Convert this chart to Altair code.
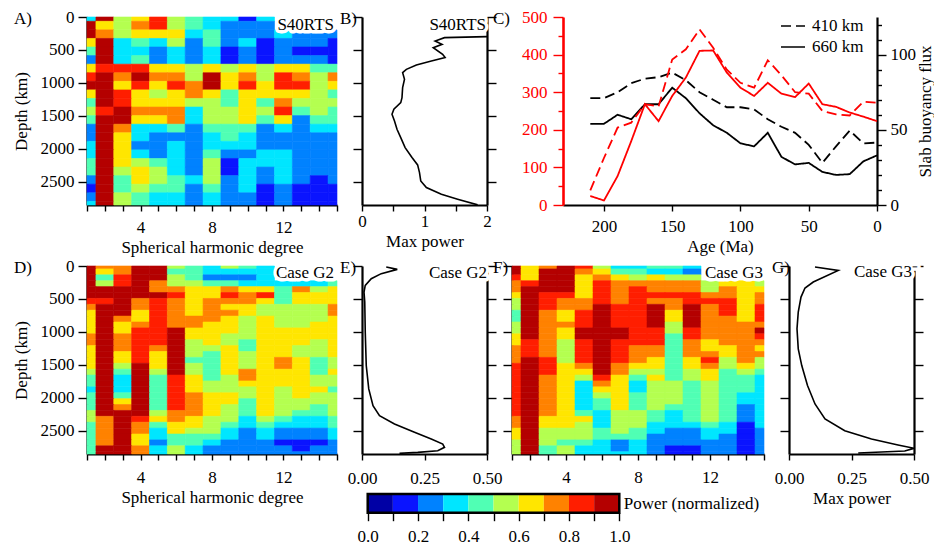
import altair as alt
import pandas as pd

FONT = "Liberation Serif"
FS = 17
RED = "#ff0000"

# ---------------- colour classes of normalised power ----------------
POWER_EDGES = [0.0, 0.1, 0.2, 0.3, 0.4, 0.5, 0.6, 0.7, 0.8, 0.9, 1.0]
POWER_COLORS = ["#0000a5", "#0a14ff", "#0082ff", "#00e6ff", "#50ffb4",
                "#b4ff50", "#ffe600", "#ff8200", "#ff1e00", "#b40000"]

# ---------------- heat-map grids (digit = colour class, '.' = hidden by label) ----------------
DEGREES = list(range(1, 16))
DEPTH_MAX = 2850
S40_STEP = 130.0
MODEL_STEP = 2860.0 / 32

S40RTS_ROWS = [
    "39568543313....", "96578543222....", "975666342223222", "693435242312221",
    "493323231212111", "293423231212221", "688866565656644", "897977596758757",
    "996868796868856", "698656764666654", "498666554647555", "589777355658454",
    "499667355646244", "297334244423233", "296322234322222", "396223233322222",
    "396323242233222", "496543251333222", "495653251323222", "294654352323212",
    "194544242312111", "295433232212111", "395433232212111",
]
G2_ROWS = [
    "97799543543....", "96799443333....", "94899542223....", "958975544333334",
    "999977667664756", "999998668784666", "889787677764666", "799787676655557",
    "699687677655557", "697687776565556", "696787766565566", "696889666566666",
    "797889665566666", "797889565466656", "697879556466556", "696869546566556",
    "696869446567645", "695969546567645", "594959546766646", "493948645766655",
    "493948655666655", "393948655565664", "494948766565655", "496948766465555",
    "497948765465545", "599957765465445", "579867655354334", "479746654343334",
    "479736553232223", "479634443232223", "479624432221112", "499735322222122",
    "499735322222222",
]
G3_ROWS = [
    "96798533443....", "96997644332....", "86996765655....", "789968777775665",
    "799968787775766", "698868788887767", "598778787788867", "598779889797868",
    "497689889697868", "497689889697768", "597789889597777", "597699988587779",
    "697699988487778", "687589888476777", "787589877476676", "787589877477677",
    "798589876468575", "898679766467565", "898669755456454", "897658646456443",
    "897637635545443", "897636635545443", "897635645545433", "897634645545433",
    "897634645445423", "897643554345423", "796663554345423", "796653553334313",
    "695554543223312", "695554442223212", "595443232222212", "594533232112212",
    "594533332112212",
]

# ---------------- max-power profiles ----------------
B_DEPTH = [298, 313, 364, 414, 465, 566, 616, 667, 727, 793, 843, 944, 1071, 1222, 1298,
           1399, 1475, 1576, 1702, 1828, 1980, 2131, 2242, 2358, 2485, 2586, 2687, 2762, 2848]
B_POWER = [2.0, 1.32, 1.17, 1.28, 1.14, 1.29, 1.33, 1.11, 0.87, 0.71, 0.65, 0.68, 0.65, 0.64, 0.62,
           0.51, 0.48, 0.52, 0.56, 0.62, 0.69, 0.80, 0.89, 0.92, 0.94, 1.03, 1.27, 1.53, 1.85]
E_DEPTH = [15, 51, 116, 192, 294, 395, 547, 1002, 1509, 1863, 2116, 2268, 2395, 2521, 2623,
           2699, 2749, 2800, 2825, 2840]
E_POWER = [0.097, 0.141, 0.077, 0.037, 0.013, 0.008, 0.011, 0.013, 0.017, 0.027, 0.044, 0.070,
           0.130, 0.210, 0.277, 0.323, 0.330, 0.303, 0.223, 0.150]
G_DEPTH = [15, 66, 243, 334, 471, 699, 952, 1256, 1509, 1813, 2091, 2319, 2496, 2623, 2714,
           2764, 2805, 2835]
G_POWER = [0.104, 0.197, 0.097, 0.064, 0.048, 0.037, 0.032, 0.037, 0.051, 0.074, 0.104, 0.144,
           0.223, 0.330, 0.436, 0.500, 0.463, 0.277]

# ---------------- panel C time series ----------------
AGES = [210, 200, 190, 180, 170, 160, 150, 140, 130, 120, 110, 100, 90, 80, 70, 60, 50, 40, 30, 20, 10, 0]
RED_410 = [39, 125, 206, 219, 268, 262, 387, 414, 467, 418, 360, 325, 312, 385, 345, 300, 296, 250, 241, 238, 275, 272]
RED_660 = [24, 12, 77, 170, 268, 223, 290, 339, 410, 411, 352, 312, 290, 325, 296, 287, 323, 268, 261, 246, 235, 223]
BLK_410 = [71, 71, 75, 81, 84, 85, 88, 83, 75, 70, 65, 65, 63.5, 57, 52, 48, 40, 28, 39, 49.5, 41, 41.5]
BLK_660 = [54, 54, 60, 57, 67, 67, 78, 71, 61, 53, 48, 41, 39, 48, 32, 27, 28, 22, 20, 20.5, 29, 33]
LEVELS = ["410 km", "660 km"]
AGE_RANGE = [0, 230]
RED_RANGE = [0, 500]
BLK_RANGE = [0, 125]

DEPTH_TICKS = [0, 500, 1000, 1500, 2000, 2500]

# ---------------- sizes ----------------
HM_W, PR_W, C_W, F_W, ROW_H = 250, 125, 314, 252, 188
CB_W, CB_H, CB_X0 = 257.3, 18.7, -0.0227
GAP_COL, ROW_PAD, CB_PAD = 25, 2, 6


def depth_scale():
    return alt.Scale(domain=[0, DEPTH_MAX], reverse=True, nice=False, zero=False)


def text_layer(text, xfield, xval, xscale, xaxis, yfield, yval, yscale, yaxis, align, baseline, dx, dy, halo=False):
    df = pd.DataFrame({xfield: [xval], yfield: [yval], "lt": [text]})
    enc = dict(x=alt.X(f"{xfield}:Q", scale=xscale, axis=xaxis),
               y=alt.Y(f"{yfield}:Q", scale=yscale, axis=yaxis),
               text="lt:N")
    style = dict(align=align, baseline=baseline, dx=dx, dy=dy, font=FONT, fontSize=FS)
    layers = []
    if halo:
        layers.append(alt.Chart(df).mark_text(color="white", stroke="white", strokeWidth=7,
                                              strokeJoin="round", **style).encode(**enc))
    layers.append(alt.Chart(df).mark_text(color="black", **style).encode(**enc))
    return layers


def heatmap_df(rows, step):
    recs = []
    for i, row in enumerate(rows):
        depth = i * step
        for deg, ch in zip(DEGREES, row):
            if ch == ".":
                continue
            k = int(ch)
            recs.append(dict(x0=max(DEGREES[0], deg - 0.5), x1=min(DEGREES[-1], deg + 0.5),
                             y0=max(0, depth - step / 2), y1=min(DEPTH_MAX, depth + step / 2),
                             p=(POWER_EDGES[k] + POWER_EDGES[k + 1]) / 2))
    return pd.DataFrame(recs)


power_scale = alt.Scale(type="threshold", domain=POWER_EDGES[1:-1], range=POWER_COLORS)


def heatmap(rows, step, width, let, let_dx, label, ldx, ldy, ylabels, x_title, y_title, xpad):
    df = heatmap_df(rows, step)
    xs = alt.Scale(domain=[DEGREES[0], DEGREES[-1]], nice=False, zero=False)
    xaxis = alt.Axis(values=DEGREES, labelExpr="datum.value % 4 === 0 ? datum.label : ''",
                     format="d", tickSize=6, labelPadding=xpad, title=x_title, titlePadding=4)
    yargs = dict(values=DEPTH_TICKS, tickSize=9, labels=ylabels, title=y_title, format="d")
    if ylabels:
        yargs.update(labelPadding=4, titlePadding=10)
    yaxis = alt.Axis(**yargs)
    rect = alt.Chart(df).mark_rect(strokeWidth=0.6).encode(
        x=alt.X("x0:Q", scale=xs, axis=xaxis),
        x2="x1",
        y=alt.Y("y0:Q", scale=depth_scale(), axis=yaxis),
        y2="y1",
        color=alt.Color("p:Q", scale=power_scale, legend=None),
        stroke=alt.Stroke("p:Q", scale=power_scale, legend=None),
    )
    labels = text_layer(label, "x0", DEGREES[-1], xs, xaxis, "y0", 0, depth_scale(), yaxis,
                        "right", "top", ldx, ldy, halo=True)
    letter = text_layer(let, "x0", DEGREES[0], xs, xaxis, "y0", 0, depth_scale(), yaxis,
                        "left", "middle", let_dx, 2)
    return alt.layer(rect, *labels, *letter).properties(width=width, height=ROW_H)


def profile(depths, powers, xmax, xticks, lexpr, fmt, let, let_dx, label, ldx, ldy, x_title, xpad):
    df = pd.DataFrame({"d": depths, "pw": powers})
    xs = alt.Scale(domain=[0, xmax], nice=False, zero=False)
    xargs = dict(values=xticks, format=fmt, tickSize=6, labelPadding=xpad, title=x_title, titlePadding=4)
    if lexpr:
        xargs["labelExpr"] = lexpr
    xaxis = alt.Axis(**xargs)
    line = alt.Chart(df).mark_line(color="black", strokeWidth=1.6, clip=True).encode(
        x=alt.X("pw:Q", scale=xs, axis=xaxis),
        y=alt.Y("d:Q", scale=depth_scale(),
                axis=alt.Axis(values=DEPTH_TICKS, labels=False, tickSize=9, title=None)),
        order=alt.Order("d:Q"),
    )
    right = alt.Chart(df).mark_line(strokeOpacity=0).encode(
        x=alt.X("pw:Q", scale=xs, axis=xaxis),
        y=alt.Y("d:Q", scale=depth_scale(),
                axis=alt.Axis(values=DEPTH_TICKS, labels=False, tickSize=9, title=None, orient="right")),
        order=alt.Order("d:Q"),
    )
    labels = text_layer(label, "pw", xmax, xs, xaxis, "d", 0, depth_scale(), None,
                        "right", "top", ldx, ldy, halo=True)
    letter = text_layer(let, "pw", 0, xs, xaxis, "d", 0, depth_scale(), None,
                        "left", "middle", let_dx, 2)
    return alt.layer(line, right, *labels, *letter).resolve_scale(y="independent").properties(
        width=PR_W, height=ROW_H)


# ---------------- panel C ----------------
def series_df(values_410, values_660):
    return pd.DataFrame({"age": AGES * 2, "val": values_410 + values_660,
                         "level": [LEVELS[0]] * len(AGES) + [LEVELS[1]] * len(AGES)})


c_x = alt.Scale(domain=AGE_RANGE, reverse=True, nice=False, zero=False)
c_xaxis = alt.Axis(values=[0, 50, 100, 150, 200], tickSize=6, labelPadding=7,
                   title="Age (Ma)", titlePadding=4)
dash_scale = alt.Scale(domain=LEVELS, range=[[10, 5], [1, 0]])


def red_scale():
    return alt.Scale(domain=RED_RANGE, nice=False, zero=False)


blk = alt.Chart(series_df(BLK_410, BLK_660)).mark_line(color="black", strokeWidth=1.8).encode(
    x=alt.X("age:Q", scale=c_x, axis=c_xaxis),
    y=alt.Y("val:Q", scale=alt.Scale(domain=BLK_RANGE, nice=False, zero=False),
            axis=alt.Axis(orient="right", values=list(range(0, 121, 10)),
                          labelExpr="datum.value % 50 === 0 ? datum.label : ''",
                          tickSize={"condition": {"test": "datum.value % 50 === 0", "value": 9}, "value": 4.5},
                          labelPadding=4, title="Slab buoyancy flux", titleAngle=270,
                          titleBaseline="top", titlePadding=2)),
    strokeDash=alt.StrokeDash("level:N", scale=dash_scale,
                              legend=alt.Legend(orient="none", legendX=693, legendY=-4,
                                                direction="vertical", title=None, symbolType="stroke",
                                                symbolSize=576, symbolStrokeWidth=1.6,
                                                symbolStrokeColor="black", labelFont=FONT,
                                                labelFontSize=FS, labelColor="black",
                                                labelOffset=6, rowPadding=0, padding=0)),
)
red = alt.Chart(series_df(RED_410, RED_660)).mark_line(color=RED, strokeWidth=1.8).encode(
    x=alt.X("age:Q", scale=c_x, axis=c_xaxis),
    y=alt.Y("val:Q", scale=red_scale(),
            axis=alt.Axis(orient="left", values=list(range(0, 501, 50)),
                          labelExpr="datum.value % 100 === 0 ? datum.label : ''",
                          tickSize={"condition": {"test": "datum.value % 100 === 0", "value": 10}, "value": 5},
                          labelPadding=6, title=None, domainColor=RED, tickColor=RED,
                          labelColor=RED, domainWidth=2.6)),
    strokeDash=alt.StrokeDash("level:N", scale=dash_scale, legend=None),
)
c_letter = text_layer("C)", "age", AGE_RANGE[1], c_x, c_xaxis, "val", RED_RANGE[1], red_scale(), None,
                      "left", "middle", -70, 2)
panel_c = alt.layer(blk, red, *c_letter).resolve_scale(y="independent").properties(
    width=C_W, height=ROW_H)

# ---------------- panels ----------------
panel_a = heatmap(S40RTS_ROWS, S40_STEP, HM_W, "A)", -73, "S40RTS", -3, 0, True,
                  "Spherical harmonic degree", "Depth (km)", 8)
panel_d = heatmap(G2_ROWS, MODEL_STEP, HM_W, "D)", -73, "Case G2", -3, -1, True,
                  "Spherical harmonic degree", "Depth (km)", 9)
panel_f = heatmap(G3_ROWS, MODEL_STEP, F_W, "F)", -19, "Case G3", -1, -1, False, None, None, 9)

panel_b = profile(B_DEPTH, B_POWER, 2, [0, 0.5, 1, 1.5, 2], "datum.value % 1 === 0 ? datum.label : ''",
                  ".0f", "B)", -22, "S40RTS", -1, 0, "Max power", 2)
panel_e = profile(E_DEPTH, E_POWER, 0.5, [0, 0.25, 0.5], None, ".2f", "E)", -22,
                  "Case G2", 0, -1, None, 10)
panel_g = profile(G_DEPTH, G_POWER, 0.5, [0, 0.25, 0.5], None, ".2f", "G)", -17,
                  "Case G3\u207b", 4, -2, "Max power", 10)

# ---------------- colour bar ----------------
cb_df = pd.DataFrame({"lo": POWER_EDGES[:-1], "hi": POWER_EDGES[1:],
                      "v": [(a + b) / 2 for a, b in zip(POWER_EDGES[:-1], POWER_EDGES[1:])],
                      "row": ["bar"] * (len(POWER_EDGES) - 1)})
cb_frame = pd.DataFrame({"lo": [POWER_EDGES[0]], "hi": [POWER_EDGES[-1]], "row": ["bar"]})
cb_x = alt.Scale(domain=[CB_X0, POWER_EDGES[-1]], nice=False, zero=False)
cb_y = alt.Scale(paddingInner=0, paddingOuter=0)
cb_xaxis = alt.Axis(values=POWER_EDGES, domain=False, tickSize=8, labelPadding=8,
                    labelExpr="round(datum.value * 10) % 2 === 0 ? format(datum.value, '.1f') : ''",
                    title=None)
cb_yaxis = alt.Axis(orient="right", labels=False, ticks=False, domain=False,
                    title="Power (normalized)", titleAngle=0, titleAlign="left",
                    titleBaseline="middle", titlePadding=4, minExtent=0)
cb_rect = alt.Chart(cb_df).mark_rect().encode(
    x=alt.X("lo:Q", scale=cb_x, axis=cb_xaxis),
    x2="hi",
    y=alt.Y("row:N", scale=cb_y, axis=cb_yaxis),
    color=alt.Color("v:Q", scale=power_scale, legend=None),
)
cb_edge = alt.Chart(cb_frame).mark_rect(fillOpacity=0, stroke="black", strokeWidth=2.5).encode(
    x=alt.X("lo:Q", scale=cb_x, axis=cb_xaxis), x2="hi",
    y=alt.Y("row:N", scale=cb_y, axis=cb_yaxis),
)
colorbar = alt.layer(cb_rect, cb_edge).properties(width=CB_W, height=CB_H)


# ---------------- invisible spacer ----------------
def spacer(w, h):
    df = pd.DataFrame({"s": [0]})
    return alt.Chart(df).mark_point(opacity=0).encode(
        x=alt.X("s:Q", axis=None), y=alt.Y("s:Q", axis=None)).properties(width=w, height=h)


top = alt.hconcat(panel_a, panel_b, spacer(76 - 2 * GAP_COL, ROW_H), panel_c,
                  spacing=GAP_COL, bounds="flush")
# E and F with the colour bar underneath; the nested block has no flush width of its own,
# so a spacer covering the rest of the E+F span keeps G in place.
ef_block = alt.vconcat(alt.hconcat(panel_e, panel_f, spacing=GAP_COL, bounds="flush"), colorbar,
                       spacing=CB_PAD)
bottom = alt.hconcat(panel_d, ef_block, spacer(PR_W + F_W, 1), panel_g,
                     spacing=GAP_COL, bounds="flush")

chart = alt.vconcat(top, bottom, spacing=ROW_PAD).properties(
    padding={"left": 4, "top": 0, "right": 0, "bottom": 0}
).configure(font=FONT, background="white").configure_view(strokeWidth=0).configure_axis(
    labelFont=FONT, labelFontSize=FS, titleFont=FONT, titleFontSize=FS, titleFontWeight="normal",
    labelColor="black", titleColor="black", domainColor="black", tickColor="black",
    domainWidth=2.2, tickWidth=1.4, grid=False, labelFlush=False, labelOverlap=False,
)

chart.save("out.html", embed_options={"renderer": "svg", "actions": False})
